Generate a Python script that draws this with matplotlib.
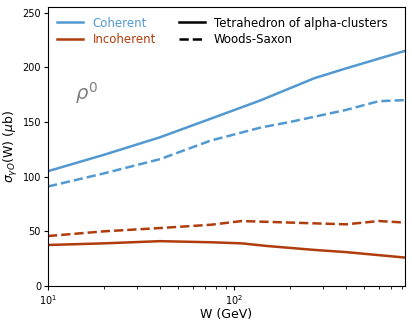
import numpy as np
import matplotlib
matplotlib.use('Agg')
import matplotlib.pyplot as plt
from matplotlib.lines import Line2D

# W (GeV) and cross sections (mu b)
w_coh_tet = [10, 20, 40, 75, 140, 270, 400, 830]
coh_tet = [105, 120, 136, 153, 170, 190, 199, 215]

w_coh_ws = [10, 20, 40, 75, 140, 200, 400, 600, 830]
coh_ws = [91, 103, 116, 133, 145, 150, 161, 169, 170]

w_inc_ws = [10, 20, 40, 75, 110, 200, 400, 600, 830]
inc_ws = [45.7, 50, 53, 56, 59.4, 58, 56.4, 59.4, 58]

w_inc_tet = [10, 20, 40, 75, 110, 150, 270, 400, 830]
inc_tet = [37.5, 39, 41, 40, 39, 36.6, 33, 31, 26]

blue = '#5299d1'
red = '#b03c0c'

fig = plt.figure(figsize=(4.12, 3.25), dpi=100)
ax = fig.add_axes([0.1165, 0.12, 0.8665, 0.858])

ax.plot(w_coh_tet, coh_tet, color=blue, lw=1.8)
ax.plot(w_coh_ws, coh_ws, color=blue, lw=1.8, ls='--')
ax.plot(w_inc_tet, inc_tet, color=red, lw=1.8)
ax.plot(w_inc_ws, inc_ws, color=red, lw=1.8, ls='--')

ax.set_xscale('log')
ax.set_xlim(10, 830)
ax.set_ylim(0, 255)
ax.tick_params(labelsize=7, pad=2, length=3)
ax.tick_params(which='minor', length=2)
ax.set_xlabel('W (GeV)', fontsize=9, labelpad=1)
ax.set_ylabel(r'$\sigma_{\gamma O}$(W) ($\mu$b)', fontsize=9, labelpad=2)

ax.text(14, 170, r'$\rho^0$', fontsize=14, color='gray')

handles = [Line2D([], [], color=blue, lw=1.8),
           Line2D([], [], color=red, lw=1.8),
           Line2D([], [], color='black', lw=1.8),
           Line2D([], [], color='black', lw=1.8, ls='--')]
labels = ['Coherent', 'Incoherent', 'Tetrahedron of alpha-clusters', 'Woods-Saxon']
leg = ax.legend(handles, labels, ncol=2, frameon=False, fontsize=8.5,
                loc='upper left', columnspacing=1.9, handlelength=2.2,
                labelspacing=0.3, borderaxespad=0.4)
for t, c in zip(leg.get_texts(), [blue, red, 'black', 'black']):
    t.set_color(c)

fig.savefig('out.png', dpi=100)
